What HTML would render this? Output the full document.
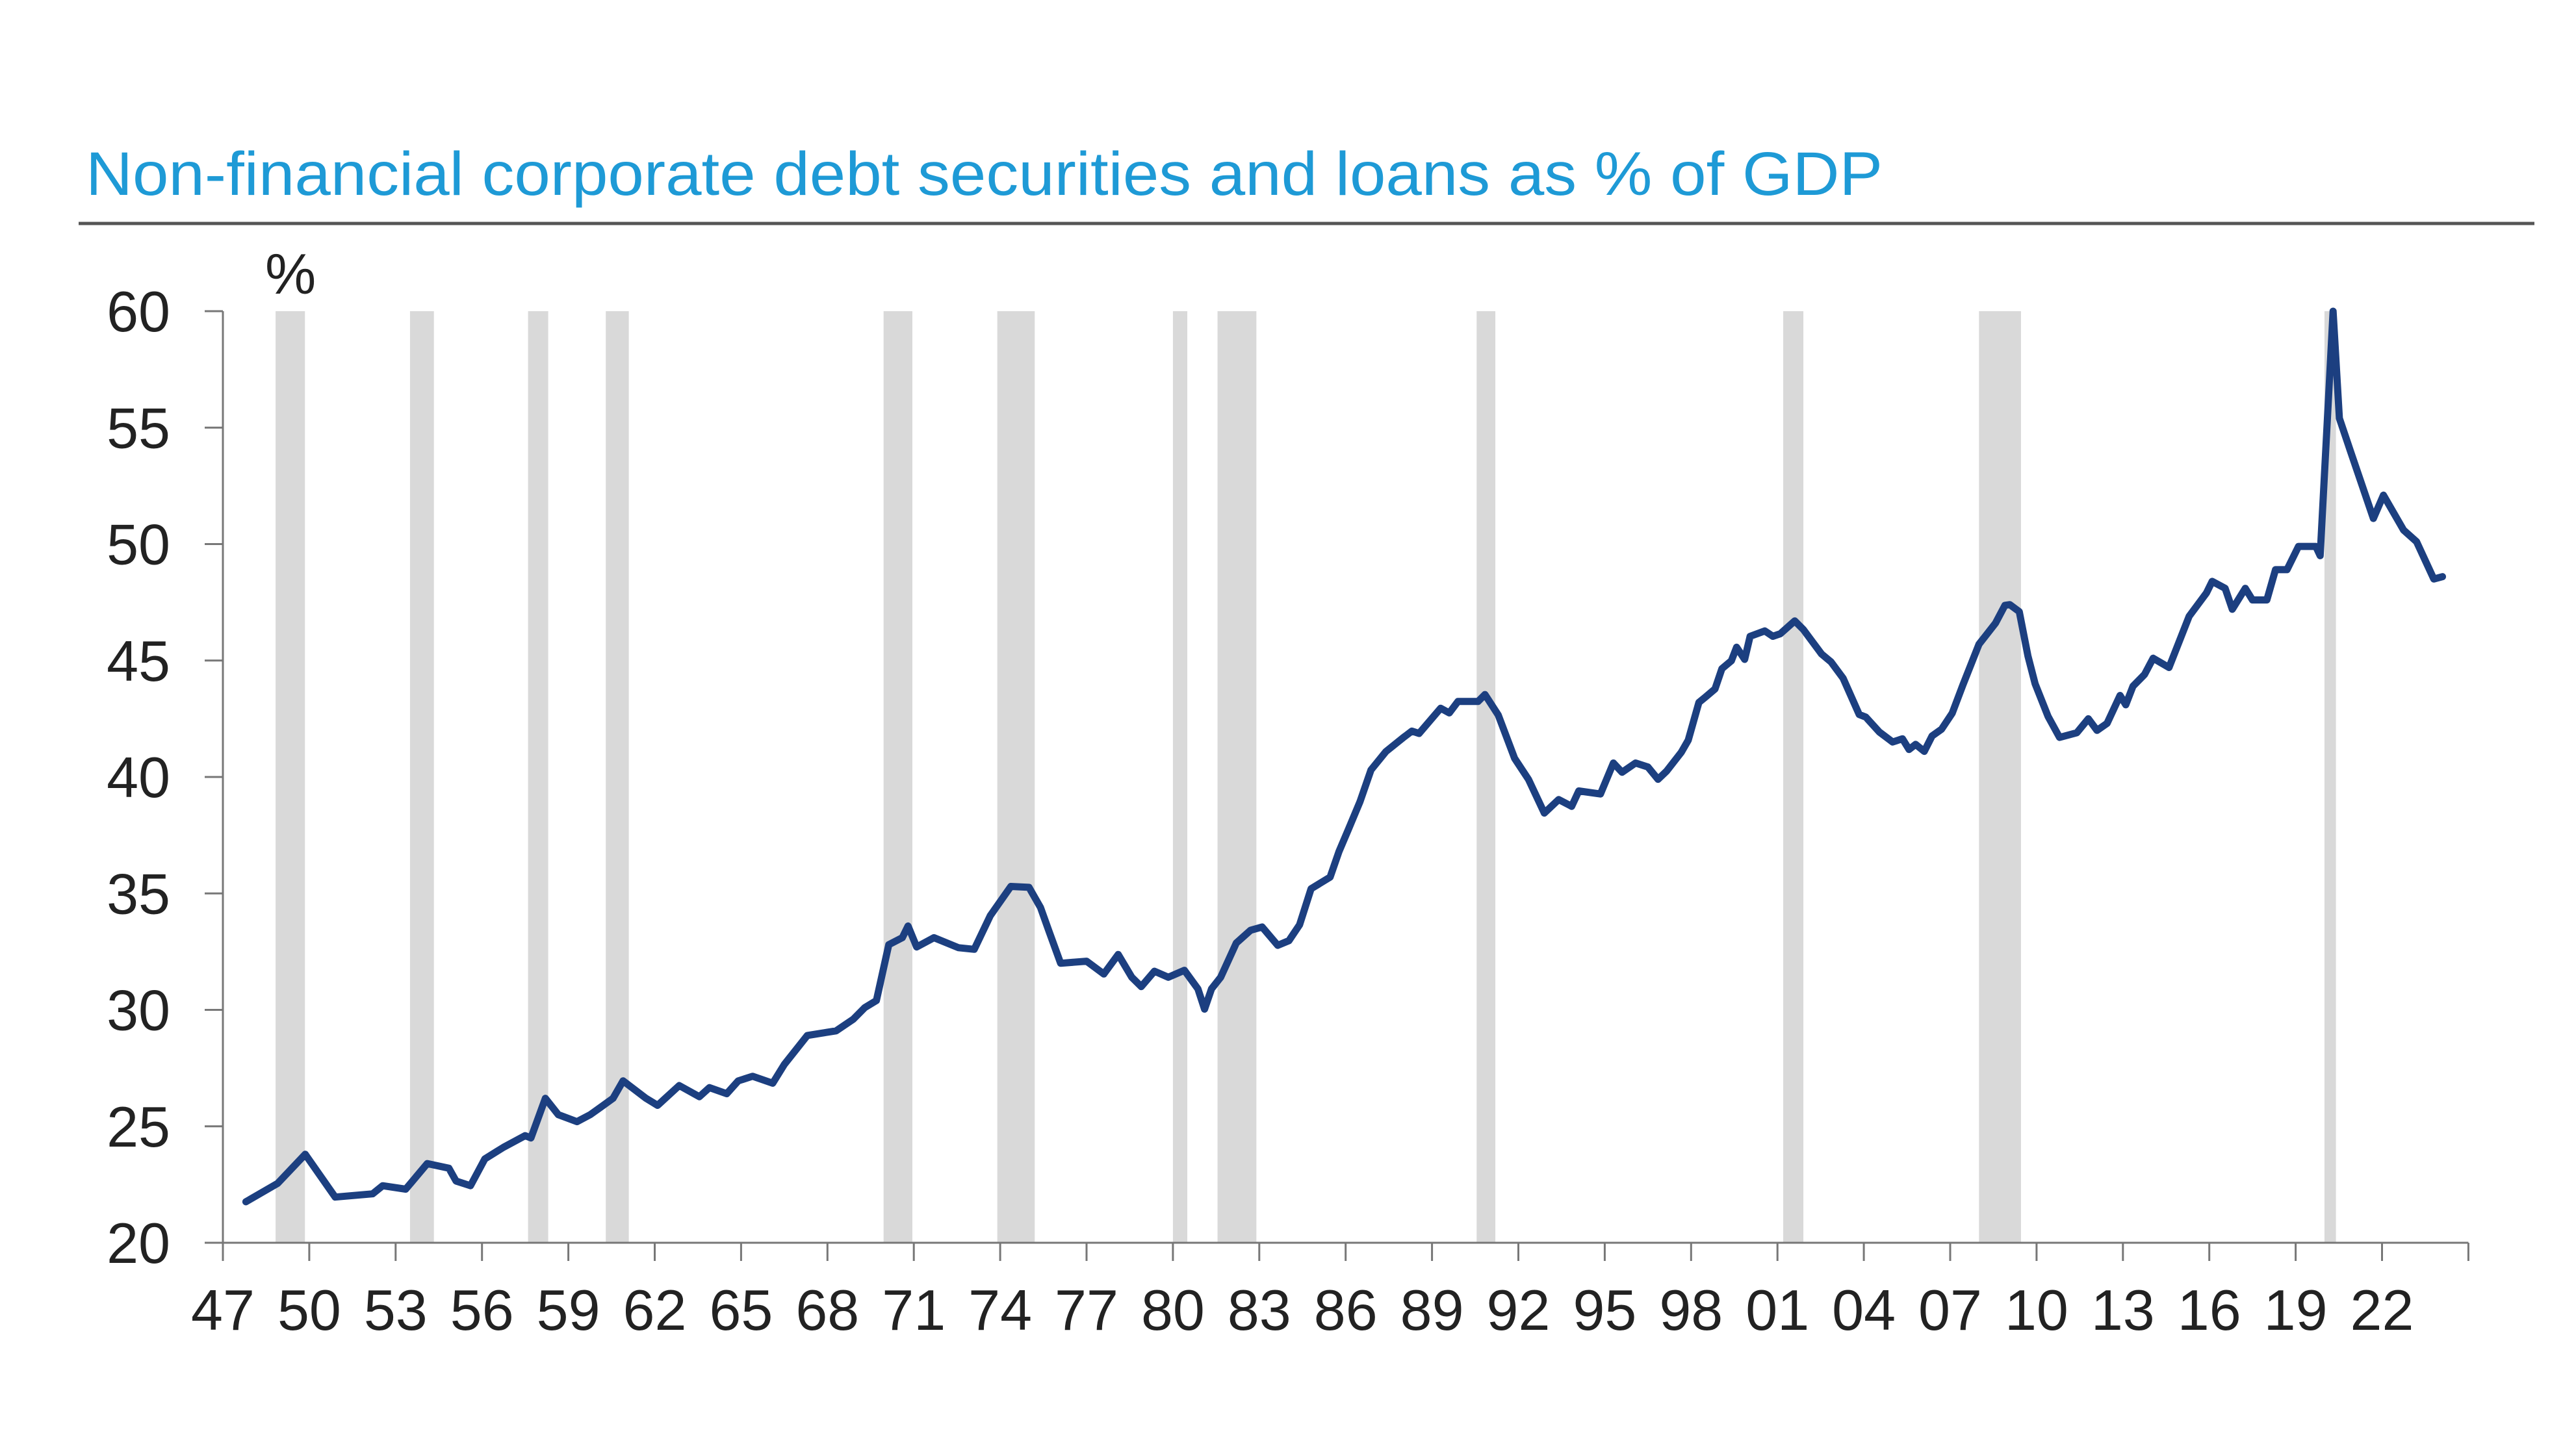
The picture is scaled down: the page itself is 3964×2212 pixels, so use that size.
<!DOCTYPE html>
<html><head><meta charset="utf-8"><style>
html,body{margin:0;padding:0;background:#fff;}
svg{display:block;font-family:"Liberation Sans",Arial,sans-serif;}
</style></head><body>
<svg id="chart" width="3964" height="2212" viewBox="0 0 3964 2212" xmlns="http://www.w3.org/2000/svg">
<rect width="3964" height="2212" fill="#fff"/>
<text x="132" y="300" font-size="95" fill="#1e9ad6" textLength="2765" lengthAdjust="spacingAndGlyphs">Non-financial corporate debt securities and loans as % of GDP</text>
<line x1="121" y1="344" x2="3900" y2="344" stroke="#555" stroke-width="5"/>
<text x="408" y="452" font-size="88" fill="#222">%</text>
<g id="rec"></g><g id="axes"></g><g id="series"></g>
</svg>
<script>
const recStarts=[1948.83,1953.5,1957.6,1960.3,1969.95,1973.9,1980.0,1981.55,1990.55,2001.2,2008.0,2020.0];
const recEnds=[1949.85,1954.33,1958.3,1961.1,1970.95,1975.2,1980.5,1982.9,1991.2,2001.9,2009.46,2020.4];
const yTicks=[20,25,30,35,40,45,50,55,60];
const xTickLabels=["47","50","53","56","59","62","65","68","71","74","77","80","83","86","89","92","95","98","01","04","07","10","13","16","19","22"];
const years=[1947.8,1948.9,1949.86,1950.9,1952.2,1952.55,1953.35,1954.1,1954.85,1955.1,1955.6,1956.1,1956.75,1957.5,1957.7,1958.2,1958.65,1959.3,1959.76,1960.1,1960.55,1960.9,1961.7,1962.1,1962.85,1963.55,1963.9,1964.5,1964.9,1965.4,1966.1,1966.5,1967.3,1968.3,1968.9,1969.3,1969.7,1970.13,1970.6,1970.8,1971.1,1971.7,1972.55,1973.1,1973.66,1974.37,1975.0,1975.4,1975.7,1976.1,1977.0,1977.6,1978.1,1978.57,1978.9,1979.36,1979.84,1980.4,1980.87,1981.1,1981.34,1981.66,1982.2,1982.7,1983.1,1983.64,1984.03,1984.4,1984.8,1985.46,1985.77,1986.1,1986.5,1986.88,1987.4,1987.99,1988.3,1988.55,1989.3,1989.6,1989.9,1990.6,1990.84,1991.3,1991.87,1992.35,1992.9,1993.4,1993.85,1994.1,1994.85,1995.3,1995.6,1996.07,1996.5,1996.85,1997.15,1997.66,1997.9,1998.27,1998.5,1998.83,1999.07,1999.4,1999.58,1999.86,2000.05,2000.56,2000.84,2001.1,2001.6,2001.9,2002.53,2002.86,2003.28,2003.84,2004.07,2004.54,2005.0,2005.34,2005.57,2005.8,2006.1,2006.37,2006.7,2007.07,2007.44,2008.0,2008.57,2008.9,2009.07,2009.4,2009.7,2009.95,2010.4,2010.8,2011.4,2011.8,2012.1,2012.45,2012.9,2013.1,2013.35,2013.75,2014.05,2014.6,2015.3,2015.9,2016.1,2016.55,2016.8,2017.25,2017.5,2018.0,2018.3,2018.7,2019.1,2019.7,2019.85,2020.3,2020.52,2020.9,2021.7,2022.05,2022.75,2023.2,2023.8,2024.1];
const values=[21.76,22.55,23.8,21.96,22.1,22.45,22.3,23.4,23.2,22.65,22.45,23.6,24.1,24.6,24.5,26.2,25.5,25.2,25.5,25.8,26.2,26.95,26.2,25.9,26.75,26.27,26.66,26.4,26.95,27.15,26.85,27.65,28.9,29.1,29.6,30.1,30.4,32.8,33.1,33.6,32.7,33.1,32.67,32.6,34.05,35.3,35.26,34.4,33.36,32.0,32.09,31.54,32.38,31.4,31.0,31.66,31.4,31.7,30.9,30.03,30.9,31.4,32.87,33.42,33.56,32.77,32.97,33.65,35.2,35.7,36.8,37.76,38.94,40.3,41.09,41.68,41.97,41.87,42.95,42.75,43.24,43.24,43.54,42.66,40.8,39.9,38.45,39.03,38.74,39.4,39.27,40.6,40.2,40.6,40.43,39.9,40.25,41.06,41.58,43.2,43.43,43.78,44.65,44.99,45.57,45.05,46.04,46.27,46.04,46.15,46.7,46.33,45.28,44.94,44.24,42.68,42.57,41.93,41.5,41.64,41.18,41.4,41.1,41.76,42.05,42.74,43.95,45.7,46.6,47.37,47.4,47.1,45.2,44.0,42.6,41.7,41.9,42.5,42.0,42.3,43.5,43.1,43.9,44.4,45.1,44.7,46.9,47.9,48.4,48.1,47.2,48.1,47.6,47.6,48.9,48.9,49.9,49.9,49.5,60.0,55.4,54.0,51.1,52.1,50.6,50.1,48.5,48.6];

const NS="http://www.w3.org/2000/svg";
const X0=343,PXY=44.3,Y0=1913,YTOP=479;
function xs(yr){return X0+(yr-1947)*PXY;}
function ys(v){return Y0-(v-20)*(Y0-YTOP)/40;}
function mk(tag,attrs,parent){const e=document.createElementNS(NS,tag);for(const k in attrs)e.setAttribute(k,attrs[k]);parent.appendChild(e);return e;}
const rec=document.getElementById('rec'),axes=document.getElementById('axes'),ser=document.getElementById('series');
for(let i=0;i<recStarts.length;i++){
  const r=mk('rect',{x:xs(recStarts[i]),y:YTOP,width:Math.max(6,xs(recEnds[i])-xs(recStarts[i])),height:Y0-YTOP,fill:'#d9d9d9'},rec);
  
  
}
const ya=mk('line',{x1:X0,y1:YTOP,x2:X0,y2:Y0,stroke:'#777','stroke-width':3},axes);


const xa=mk('line',{x1:X0,y1:Y0,x2:xs(2025),y2:Y0,stroke:'#777','stroke-width':3},axes);


yTicks.forEach(v=>{
  const y=ys(v);
  const t=mk('line',{x1:X0-28,y1:y,x2:X0,y2:y,stroke:'#777','stroke-width':3},axes);
  
  
  const l=mk('text',{x:262,y:y+31,'font-size':88,fill:'#222','text-anchor':'end'},axes);
  l.textContent=String(v);
  
  
});
for(let i=0;i<=xTickLabels.length;i++){
  const x=xs(1947+3*i);
  const t=mk('line',{x1:x,y1:Y0,x2:x,y2:Y0+28,stroke:'#777','stroke-width':3},axes);
  
  
  if(i<xTickLabels.length){
    const l=mk('text',{x:x,y:2047,'font-size':88,fill:'#222','text-anchor':'middle'},axes);
    l.textContent=xTickLabels[i];
    
    
  }
}
let d='';
for(let i=0;i<years.length;i++){d+=(i?'L':'M')+xs(years[i]).toFixed(1)+' '+ys(values[i]).toFixed(1);}
const p=mk('path',{d:d,fill:'none',stroke:'#1c3f80','stroke-width':11,'stroke-linejoin':'round','stroke-linecap':'round'},ser);


</script>
</body></html>
